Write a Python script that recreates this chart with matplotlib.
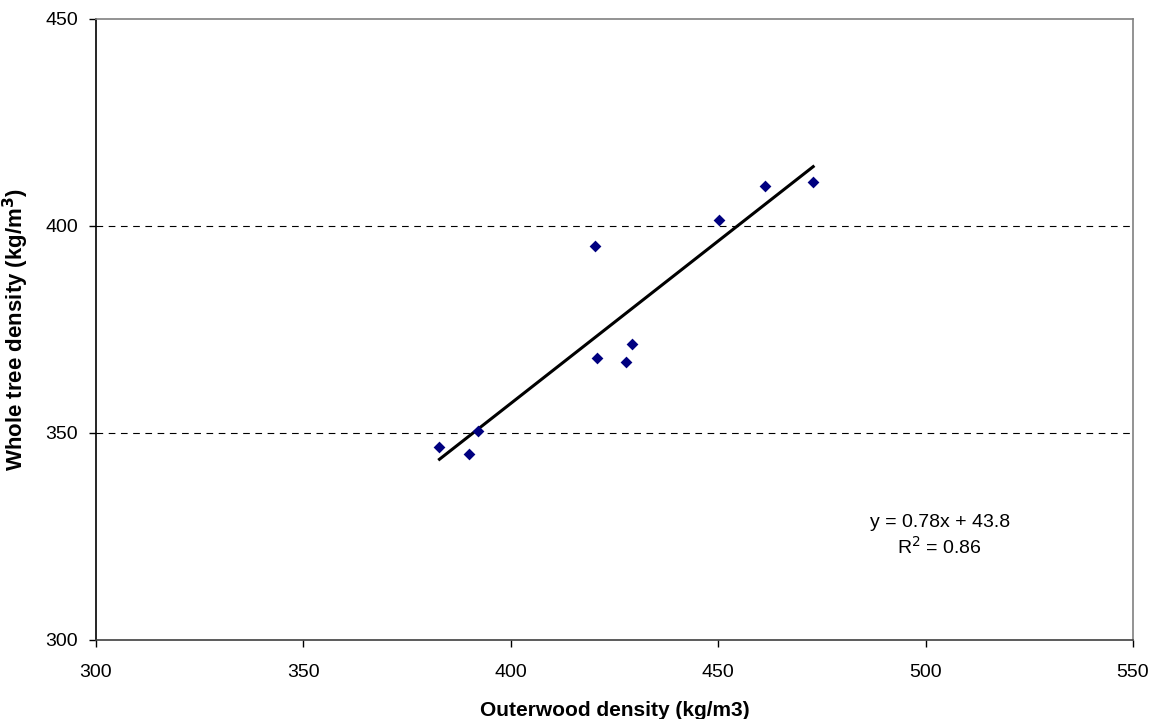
import matplotlib
matplotlib.use("Agg")
import matplotlib.pyplot as plt
import numpy as np

plt.rcParams['font.family'] = ['Liberation Sans', 'DejaVu Sans']

# outerwood vs whole tree density
outerwood = [382.8, 390.0, 392.2, 420.3, 420.7, 427.8, 429.3, 450.3, 461.4, 472.9]
whole_tree = [346.7, 344.9, 350.4, 395.2, 368.1, 367.1, 371.6, 401.5, 409.6, 410.7]
x_ticks = [300, 350, 400, 450, 500, 550]
y_ticks = [300, 350, 400, 450]
eq_text = "y = 0.78x + 43.8\nR$^2$ = 0.86"

fig = plt.figure(figsize=(11.51, 7.19), dpi=100)
ax = fig.add_axes([96/1151, 1 - 640/719, (1133-96)/1151, (640-19)/719])

x = np.array(outerwood)
y = np.array(whole_tree)
slope, icpt = np.polyfit(x, y, 1)
xf = np.array([x.min(), x.max()])
ax.plot(xf, slope*xf + icpt, color='black', lw=2.2, zorder=2)
ax.scatter(x, y, marker='D', s=36, color='#000080', zorder=3, linewidths=0)

for yv in [350, 400]:
    ax.axhline(yv, color='black', lw=0.8, ls=(0, (6, 5)), zorder=1)

ax.set_xlim(300, 550)
ax.set_ylim(300, 450)
ax.set_xticks(x_ticks)
ax.set_yticks(y_ticks)
ax.tick_params(direction='out', length=5, width=1, labelsize=14)
ax.tick_params(axis='x', pad=12)
ax.tick_params(axis='y', pad=8)

ax.spines['top'].set_color('#808080')
ax.spines['right'].set_color('#808080')
ax.spines['bottom'].set_color('#404040')
ax.spines['left'].set_color('black')
for s in ax.spines.values():
    s.set_linewidth(1.2)

ax.set_xlabel("Outerwood density (kg/m3)", fontsize=15, fontweight='bold')
ax.set_ylabel("Whole tree density (kg/m$^\\mathbf{3}$)", fontsize=16, fontweight='bold')
ax.xaxis.set_label_coords(0.5, -0.098)
ax.yaxis.set_label_coords(-0.063, 0.5)

ax.text(503.4, 325.2, eq_text, fontsize=14, ha='center', va='center', linespacing=1.3)

fig.savefig("out.png", dpi=100)
